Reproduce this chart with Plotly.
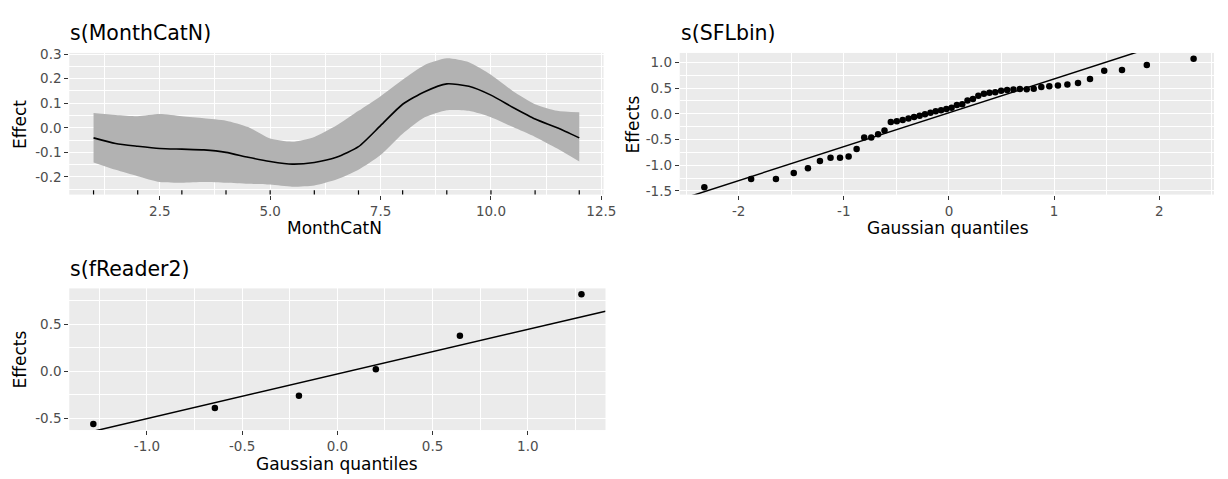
import plotly.graph_objects as go

# ---------------- Data ----------------
# Panel 1: s(MonthCatN) smooth effect with confidence band
month_x = [1, 1.5, 2, 2.5, 3, 3.5, 4, 4.5, 5, 5.5, 6, 6.5, 7, 7.5, 8, 8.5, 9, 9.5, 10, 10.5, 11, 11.5, 12]
month_fit = [-0.041, -0.064, -0.075, -0.084, -0.087, -0.090, -0.100, -0.120, -0.137, -0.148, -0.141, -0.120,
             -0.077, 0.009, 0.096, 0.147, 0.179, 0.169, 0.133, 0.083, 0.036, 0.000, -0.041]
month_upper = [0.060, 0.052, 0.047, 0.056, 0.047, 0.039, 0.029, 0.003, -0.044, -0.057, -0.037, 0.009,
               0.069, 0.129, 0.196, 0.256, 0.283, 0.267, 0.216, 0.149, 0.096, 0.069, 0.063]
month_lower = [-0.141, -0.171, -0.197, -0.221, -0.224, -0.221, -0.224, -0.228, -0.231, -0.240, -0.235, -0.211,
               -0.171, -0.111, -0.024, 0.043, 0.072, 0.069, 0.043, 0.003, -0.037, -0.084, -0.137]
rug_months = [1, 2, 3, 4, 5, 6, 7, 8, 9, 10, 11, 12]

# Panel 2: s(SFLbin) QQ plot of random effects
sfl_q = [-2.326, -1.881, -1.645, -1.476, -1.341, -1.227, -1.126, -1.036, -0.954, -0.878,
         -0.806, -0.739, -0.674, -0.613, -0.553, -0.496, -0.440, -0.385, -0.332, -0.279,
         -0.228, -0.176, -0.126, -0.075, -0.025, 0.025, 0.075, 0.126, 0.176, 0.228,
         0.279, 0.332, 0.385, 0.440, 0.496, 0.553, 0.613, 0.674, 0.739, 0.806,
         0.878, 0.954, 1.036, 1.126, 1.227, 1.341, 1.476, 1.645, 1.881, 2.326]
sfl_eff = [-1.43, -1.27, -1.27, -1.15, -1.06, -0.92, -0.855, -0.855, -0.83, -0.684,
           -0.462, -0.462, -0.40, -0.323, -0.16, -0.146, -0.12, -0.09, -0.06, -0.04,
           -0.01, 0.02, 0.05, 0.07, 0.095, 0.12, 0.17, 0.184, 0.26, 0.29,
           0.35, 0.39, 0.41, 0.42, 0.45, 0.465, 0.475, 0.485, 0.48, 0.49,
           0.52, 0.538, 0.551, 0.57, 0.60, 0.678, 0.836, 0.855, 0.95, 1.07]
sfl_intercept = 0.02
sfl_slope = 0.66

# Panel 3: s(fReader2) QQ plot of random effects
rdr_q = [-1.2816, -0.6433, -0.2019, 0.2019, 0.6433, 1.2816]
rdr_eff = [-0.56, -0.39, -0.26, 0.02, 0.375, 0.817]
rdr_intercept = -0.03
rdr_slope = 0.474

# Tick labels
p1_xticks = [2.5, 5.0, 7.5, 10.0, 12.5]
p1_xlabels = ["2.5", "5.0", "7.5", "10.0", "12.5"]
p1_yticks = [-0.2, -0.1, 0.0, 0.1, 0.2, 0.3]
p1_ylabels = ["-0.2", "-0.1", "0.0", "0.1", "0.2", "0.3"]
p2_xticks = [-2, -1, 0, 1, 2]
p2_xlabels = ["-2", "-1", "0", "1", "2"]
p2_yticks = [-1.5, -1.0, -0.5, 0.0, 0.5, 1.0]
p2_ylabels = ["-1.5", "-1.0", "-0.5", "0.0", "0.5", "1.0"]
p3_xticks = [-1.0, -0.5, 0.0, 0.5, 1.0]
p3_xlabels = ["-1.0", "-0.5", "0.0", "0.5", "1.0"]
p3_yticks = [-0.5, 0.0, 0.5]
p3_ylabels = ["-0.5", "0.0", "0.5"]

# ---------------- Figure ----------------
W, H = 1228, 479
FONT = "DejaVu Sans, Liberation Sans, Arial, sans-serif"
BG = "#EBEBEB"
BAND = "#B2B2B2"

fig = go.Figure()

# Panel 1
fig.add_trace(go.Scatter(x=month_x, y=month_lower, mode="lines", line=dict(width=0, shape="spline", smoothing=0.6),
                         xaxis="x", yaxis="y", showlegend=False, hoverinfo="skip"))
fig.add_trace(go.Scatter(x=month_x, y=month_upper, mode="lines", line=dict(width=0, shape="spline", smoothing=0.6),
                         fill="tonexty", fillcolor=BAND, xaxis="x", yaxis="y", showlegend=False, hoverinfo="skip"))
fig.add_trace(go.Scatter(x=month_x, y=month_fit, mode="lines", line=dict(color="black", width=1.6, shape="spline", smoothing=0.6),
                         xaxis="x", yaxis="y", showlegend=False))

p1_xr = [0.45, 12.55]
p1_yr = [-0.272, 0.305]

# Panel 2
p2_xr = [-2.56, 2.52]
p2_yr = [-1.572, 1.185]
fig.add_trace(go.Scatter(x=p2_xr, y=[sfl_intercept + sfl_slope * v for v in p2_xr], mode="lines",
                         line=dict(color="black", width=1.5), xaxis="x2", yaxis="y2", showlegend=False))
fig.add_trace(go.Scatter(x=sfl_q, y=sfl_eff, mode="markers", marker=dict(color="black", size=6.5),
                         xaxis="x2", yaxis="y2", showlegend=False))

# Panel 3
p3_xr = [-1.408, 1.408]
p3_yr = [-0.625, 0.879]
fig.add_trace(go.Scatter(x=p3_xr, y=[rdr_intercept + rdr_slope * v for v in p3_xr], mode="lines",
                         line=dict(color="black", width=1.5), xaxis="x3", yaxis="y3", showlegend=False))
fig.add_trace(go.Scatter(x=rdr_q, y=rdr_eff, mode="markers", marker=dict(color="black", size=6.5),
                         xaxis="x3", yaxis="y3", showlegend=False))

# Rug marks on panel 1
for m in rug_months:
    fig.add_shape(type="line", xref="x", yref="y domain", x0=m, x1=m, y0=0, y1=0.03,
                  line=dict(color="black", width=1.2))

def px_x(p):
    return p / W

def px_y(p):
    return 1 - p / H

tickfont = dict(family=FONT, size=13.5, color="#4D4D4D")

def axis_common(domain, rng, tickvals, ticktext, minor_dtick, minor_tick0, anchor):
    return dict(domain=domain, range=rng, tickvals=tickvals, ticktext=ticktext,
                showgrid=True, gridcolor="white", gridwidth=1.2, zeroline=False, showline=False,
                ticks="outside", ticklen=4, tickwidth=1.1, tickcolor="#333333",
                tickfont=tickfont, anchor=anchor, fixedrange=True,
                minor=dict(dtick=minor_dtick, tick0=minor_tick0, showgrid=True, gridcolor="white",
                           gridwidth=0.6, ticks=""))

fig.update_layout(
    width=W, height=H,
    margin=dict(l=0, r=0, t=0, b=0),
    paper_bgcolor="white", plot_bgcolor=BG,
    font=dict(family=FONT, color="black"),
    xaxis=axis_common([px_x(70), px_x(610)], p1_xr, p1_xticks, p1_xlabels, 1.25, 0, "y"),
    yaxis=axis_common([px_y(192), px_y(47)], p1_yr, p1_yticks, p1_ylabels, 0.1, 0.05, "x"),
    xaxis2=axis_common([px_x(687), px_x(1227)], p2_xr, p2_xticks, p2_xlabels, 1.0, 0.5, "y2"),
    yaxis2=axis_common([px_y(192), px_y(47)], p2_yr, p2_yticks, p2_ylabels, 0.5, 0.25, "x2"),
    xaxis3=axis_common([px_x(70), px_x(612)], p3_xr, p3_xticks, p3_xlabels, 0.5, 0.25, "y3"),
    yaxis3=axis_common([px_y(433), px_y(288)], p3_yr, p3_yticks, p3_ylabels, 0.5, 0.25, "x3"),
)

annots = [
    # titles
    dict(text="s(MonthCatN)", x=px_x(69), y=px_y(27), xanchor="left", yanchor="middle", size=20.5),
    dict(text="s(SFLbin)", x=px_x(686), y=px_y(27), xanchor="left", yanchor="middle", size=20.5),
    dict(text="s(fReader2)", x=px_x(69), y=px_y(268), xanchor="left", yanchor="middle", size=20.5),
    # x axis titles
    dict(text="MonthCatN", x=px_x(338), y=px_y(226), xanchor="center", yanchor="middle", size=17),
    dict(text="Gaussian quantiles", x=px_x(958), y=px_y(226), xanchor="center", yanchor="middle", size=17),
    dict(text="Gaussian quantiles", x=px_x(341), y=px_y(468), xanchor="center", yanchor="middle", size=17),
]
for a in annots:
    fig.add_annotation(text=a["text"], x=a["x"], y=a["y"], xref="paper", yref="paper",
                       xanchor=a["xanchor"], yanchor=a["yanchor"], showarrow=False,
                       font=dict(family=FONT, size=a["size"], color="black"))

ytitles = [
    dict(text="Effect", x=px_x(20), y=px_y(120)),
    dict(text="Effects", x=px_x(640), y=px_y(120)),
    dict(text="Effects", x=px_x(20), y=px_y(361)),
]
for a in ytitles:
    fig.add_annotation(text=a["text"], x=a["x"], y=a["y"], xref="paper", yref="paper",
                       xanchor="center", yanchor="middle", textangle=-90, showarrow=False,
                       font=dict(family=FONT, size=17, color="black"))

fig.write_html("out.html", config={"displayModeBar": False},
               post_script="document.body.style.margin='0';document.body.style.overflow='hidden';")
